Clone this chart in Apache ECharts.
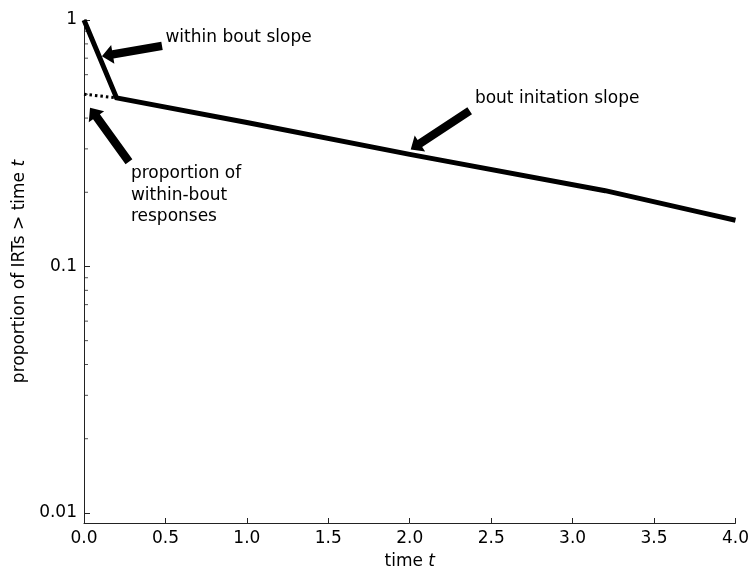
<!DOCTYPE html>
<html>
<head>
<meta charset="utf-8">
<script src="https://cdn.jsdelivr.net/npm/echarts@6/dist/echarts.min.js"></script>
<style>
  html, body { margin: 0; padding: 0; background: #fff; }
  #chart { width: 752px; height: 575px; }
</style>
</head>
<body>
<div id="chart"></div>
<script>
// Survivor curve of inter-response times (log scale)
const survivor = [[0, 1], [0.2, 0.483], [1.0, 0.384], [2.0, 0.285], [3.2, 0.203], [3.8, 0.165], [4.0, 0.154]];
// Extrapolated intercept of the bout-initiation limb
const intercept = [[0, 0.5], [0.2, 0.483]];
// Log-axis minor tick positions
const minorTicks = [0.02, 0.03, 0.04, 0.05, 0.06, 0.07, 0.08, 0.09, 0.2, 0.3, 0.4, 0.5, 0.6, 0.7, 0.8, 0.9];
const xTicks = [0, 0.5, 1, 1.5, 2, 2.5, 3, 3.5, 4];
const yTicks = [0.01, 0.1, 1];

// Annotation texts (anchor in data space) and arrows (tail -> tip in data space)
const notes = [
  { text: 'within bout slope', at: [0.5, 0.846], align: 'left', valign: 'middle' },
  { text: 'bout initation slope', at: [2.4, 0.479], align: 'left', valign: 'middle' },
  { text: 'proportion of\nwithin-bout\nresponses', at: [0.288, 0.194], align: 'left', valign: 'middle' }
];
const arrows = [
  { tail: [0.479, 0.785], tip: [0.11, 0.713] },
  { tail: [0.276, 0.266], tip: [0.037, 0.44] },
  { tail: [2.368, 0.428], tip: [2.006, 0.298] }
];

const FONT = 'DejaVu Sans';
const FS = 17;
const chart = echarts.init(document.getElementById('chart'), null, { renderer: 'canvas' });

chart.setOption({
  animation: false,
  backgroundColor: '#fff',
  grid: { left: 84, right: 16, top: 20, bottom: 51, containLabel: false },
  xAxis: {
    type: 'value',
    min: 0, max: 4, interval: 0.5,
    name: 'time {i|t}',
    nameLocation: 'middle',
    nameGap: 30,
    nameTextStyle: {
      fontFamily: FONT, fontSize: FS, color: '#000',
      rich: { i: { fontFamily: FONT, fontSize: FS, fontStyle: 'italic', color: '#000' } }
    },
    axisLine: { show: true, onZero: false, lineStyle: { color: '#222', width: 1 } },
    axisTick: { show: true, inside: true, length: 5, lineStyle: { color: '#222', width: 1 } },
    axisLabel: {
      fontFamily: FONT, fontSize: FS, color: '#000', margin: 7,
      formatter: v => xTicks.some(t => Math.abs(t - v) < 1e-9) ? v.toFixed(1) : ''
    },
    splitLine: { show: false }
  },
  yAxis: {
    type: 'log',
    logBase: 10,
    min: 0.0091, max: 1,
    name: 'proportion of IRTs > time {i|t}',
    nameLocation: 'middle',
    nameGap: 54,
    nameRotate: 90,
    nameTextStyle: {
      fontFamily: FONT, fontSize: FS, color: '#000',
      rich: { i: { fontFamily: FONT, fontSize: FS, fontStyle: 'italic', color: '#000' } }
    },
    axisLine: { show: true, onZero: false, lineStyle: { color: '#222', width: 1 } },
    axisTick: { show: true, inside: true, length: 6, lineStyle: { color: '#222', width: 1 } },
    axisLabel: {
      fontFamily: FONT, fontSize: FS, color: '#000', margin: 7,
      showMinLabel: false,
      formatter: v => {
        const hit = yTicks.find(t => Math.abs(Math.log10(t) - Math.log10(v)) < 1e-6);
        return hit === undefined ? '' : String(hit);
      }
    },
    splitLine: { show: false }
  },
  series: [
    {
      type: 'scatter',
      silent: true,
      clip: false,
      symbol: 'rect',
      symbolSize: [4, 1],
      symbolOffset: [2, 0],
      itemStyle: { color: '#222' },
      data: minorTicks.map(v => [0, v]),
      z: 1
    },
    {
      type: 'line',
      data: intercept,
      showSymbol: false,
      silent: true,
      lineStyle: { color: '#000', width: 3, type: [2.5, 3] },
      z: 2
    },
    {
      type: 'line',
      data: survivor,
      showSymbol: false,
      silent: true,
      lineStyle: { color: '#000', width: 5, cap: 'butt', join: 'miter' },
      z: 3
    }
  ]
});

function toPx(p) {
  return chart.convertToPixel({ gridIndex: 0 }, p);
}

function arrowPolygon(tailData, tipData) {
  const T = toPx(tailData), P = toPx(tipData);
  const dx = P[0] - T[0], dy = P[1] - T[1];
  const len = Math.hypot(dx, dy);
  const ux = dx / len, uy = dy / len;
  const nx = -uy, ny = ux;
  const headLen = 11, headHalf = 9.5, shaftHalf = 4.2;
  const B = [P[0] - ux * headLen, P[1] - uy * headLen];
  return [
    [T[0] + nx * shaftHalf, T[1] + ny * shaftHalf],
    [B[0] + nx * shaftHalf, B[1] + ny * shaftHalf],
    [B[0] + nx * headHalf, B[1] + ny * headHalf],
    [P[0], P[1]],
    [B[0] - nx * headHalf, B[1] - ny * headHalf],
    [B[0] - nx * shaftHalf, B[1] - ny * shaftHalf],
    [T[0] - nx * shaftHalf, T[1] - ny * shaftHalf]
  ];
}

const graphics = [];
arrows.forEach(a => {
  graphics.push({
    type: 'polygon',
    shape: { points: arrowPolygon(a.tail, a.tip) },
    style: { fill: '#000', stroke: null },
    z: 100
  });
});
notes.forEach(n => {
  const p = toPx(n.at);
  graphics.push({
    type: 'text',
    x: p[0], y: p[1],
    style: {
      text: n.text,
      fill: '#000',
      font: FS + 'px "' + FONT + '"',
      lineHeight: 21.5,
      align: n.align,
      verticalAlign: n.valign
    },
    z: 100
  });
});
chart.setOption({ graphic: graphics });
</script>
</body>
</html>
